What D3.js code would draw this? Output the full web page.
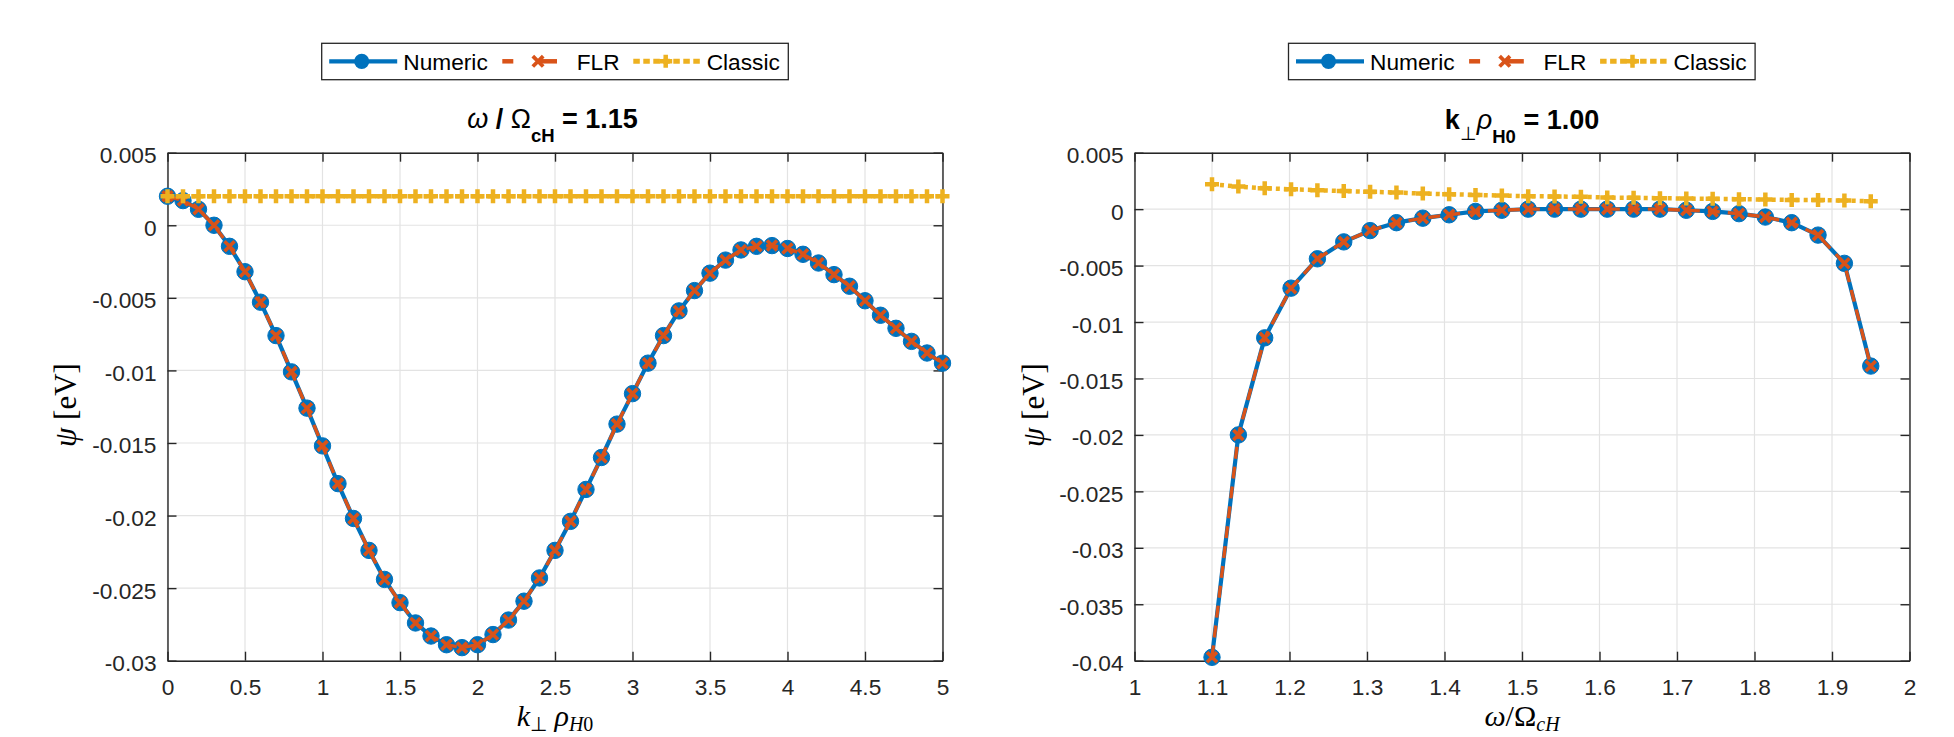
<!DOCTYPE html>
<html>
<head>
<meta charset="utf-8">
<script src="https://cdn.jsdelivr.net/npm/d3@7"></script>
<style>
  html, body { margin: 0; padding: 0; background: #ffffff; }
  svg { display: block; }
</style>
</head>
<body>
<svg id="chart" width="1954" height="737"></svg>
<script>
// ---------------- DATA ----------------
// Left panel: psi vs k_perp rho_H0 at omega/Omega_cH = 1.15
const leftK = [0.0, 0.1, 0.2, 0.3, 0.4, 0.5, 0.6, 0.7, 0.8, 0.9,
               1.0, 1.1, 1.2, 1.3, 1.4, 1.5, 1.6, 1.7, 1.8, 1.9,
               2.0, 2.1, 2.2, 2.3, 2.4, 2.5, 2.6, 2.7, 2.8, 2.9,
               3.0, 3.1, 3.2, 3.3, 3.4, 3.5, 3.6, 3.7, 3.8, 3.9,
               4.0, 4.1, 4.2, 4.3, 4.4, 4.5, 4.6, 4.7, 4.8, 4.9, 5.0];
const leftNumeric = [0.0020, 0.0017, 0.0011, 0.0000, -0.00145, -0.0032, -0.0053, -0.0076, -0.0101, -0.0126,
                     -0.0152, -0.0178, -0.0202, -0.0224, -0.0244, -0.0260, -0.0274, -0.0283, -0.0289, -0.0291,
                     -0.0289, -0.0282, -0.0272, -0.0259, -0.0243, -0.0224, -0.0204, -0.0182, -0.0160, -0.0137,
                     -0.0116, -0.0095, -0.0076, -0.0059, -0.0045, -0.0033, -0.0024, -0.0017, -0.00145, -0.0014,
                     -0.0016, -0.0020, -0.0026, -0.0034, -0.0042, -0.0052, -0.0062, -0.0071, -0.0080, -0.0088, -0.0095];
const leftFLR = [0.0020, 0.0017, 0.0011, 0.0000, -0.00145, -0.0032, -0.0053, -0.0076, -0.0101, -0.0126,
                 -0.0152, -0.0178, -0.0202, -0.0224, -0.0244, -0.0260, -0.0274, -0.0283, -0.0289, -0.0291,
                 -0.0289, -0.0282, -0.0272, -0.0259, -0.0243, -0.0224, -0.0204, -0.0182, -0.0160, -0.0137,
                 -0.0116, -0.0095, -0.0076, -0.0059, -0.0045, -0.0033, -0.0024, -0.0017, -0.00145, -0.0014,
                 -0.0016, -0.0020, -0.0026, -0.0034, -0.0042, -0.0052, -0.0062, -0.0071, -0.0080, -0.0088, -0.0095];
const leftClassic = [0.002, 0.002, 0.002, 0.002, 0.002, 0.002, 0.002, 0.002, 0.002, 0.002,
                     0.002, 0.002, 0.002, 0.002, 0.002, 0.002, 0.002, 0.002, 0.002, 0.002,
                     0.002, 0.002, 0.002, 0.002, 0.002, 0.002, 0.002, 0.002, 0.002, 0.002,
                     0.002, 0.002, 0.002, 0.002, 0.002, 0.002, 0.002, 0.002, 0.002, 0.002,
                     0.002, 0.002, 0.002, 0.002, 0.002, 0.002, 0.002, 0.002, 0.002, 0.002, 0.002];

// Right panel: psi vs omega/Omega_cH at k_perp rho_H0 = 1.00
const rightW = [1.100, 1.134, 1.168, 1.202, 1.236, 1.270, 1.304, 1.338, 1.372, 1.406,
                1.440, 1.474, 1.508, 1.542, 1.576, 1.610, 1.644, 1.678, 1.712, 1.746,
                1.780, 1.814, 1.848, 1.882, 1.916, 1.950];
const rightNumeric = [-0.0397, -0.0200, -0.0114, -0.0070, -0.0044, -0.0029, -0.0019, -0.0012, -0.0008, -0.0005,
                      -0.0002, -0.0001, 0.0000, 0.0000, 0.0000, 0.0000, 0.0000, 0.0000, -0.0001, -0.0002,
                      -0.0004, -0.0007, -0.0012, -0.0023, -0.0048, -0.0139];
const rightFLR = [-0.0397, -0.0200, -0.0114, -0.0070, -0.0044, -0.0029, -0.0019, -0.0012, -0.0008, -0.0005,
                  -0.0002, -0.0001, 0.0000, 0.0000, 0.0000, 0.0000, 0.0000, 0.0000, -0.0001, -0.0002,
                  -0.0004, -0.0007, -0.0012, -0.0023, -0.0048, -0.0139];
const rightClassic = [0.0022, 0.0020, 0.00185, 0.00176, 0.00168, 0.0016, 0.00153, 0.00147, 0.00138, 0.00132,
                      0.00126, 0.0012, 0.00115, 0.00112, 0.00109, 0.00103, 0.0010, 0.00097, 0.00094, 0.00091,
                      0.00088, 0.00085, 0.00082, 0.0008, 0.00076, 0.0007];

// Ticks
const leftXTicks = [0, 0.5, 1, 1.5, 2, 2.5, 3, 3.5, 4, 4.5, 5];
const leftXTickLabels = ["0", "0.5", "1", "1.5", "2", "2.5", "3", "3.5", "4", "4.5", "5"];
const leftYTicks = [0.005, 0, -0.005, -0.01, -0.015, -0.02, -0.025, -0.03];
const leftYTickLabels = ["0.005", "0", "-0.005", "-0.01", "-0.015", "-0.02", "-0.025", "-0.03"];
const rightXTicks = [1, 1.1, 1.2, 1.3, 1.4, 1.5, 1.6, 1.7, 1.8, 1.9, 2];
const rightXTickLabels = ["1", "1.1", "1.2", "1.3", "1.4", "1.5", "1.6", "1.7", "1.8", "1.9", "2"];
const rightYTicks = [0.005, 0, -0.005, -0.01, -0.015, -0.02, -0.025, -0.03, -0.035, -0.04];
const rightYTickLabels = ["0.005", "0", "-0.005", "-0.01", "-0.015", "-0.02", "-0.025", "-0.03", "-0.035", "-0.04"];

const seriesNames = ["Numeric", "FLR", "Classic"];
const seriesColors = ["#0072BD", "#D95319", "#EDB120"];
const leftTitleValue = "1.15";
const rightTitleValue = "1.00";

// ---------------- DRAWING ----------------
const svg = d3.select("#chart");
const SANS = "'Liberation Sans', Arial, Helvetica, sans-serif";
const SERIF = "'Liberation Serif', 'Times New Roman', serif";
const AXC = "#262626";
const TICKFONT = 22.7;

function xPath(cx, cy, s) {
  return `M${cx - s},${cy - s}L${cx + s},${cy + s}M${cx - s},${cy + s}L${cx + s},${cy - s}`;
}
function plusPath(cx, cy, s) {
  return `M${cx - s},${cy}L${cx + s},${cy}M${cx},${cy - s}L${cx},${cy + s}`;
}

function drawPanel(cfg) {
  const g = svg.append("g");
  const x = d3.scaleLinear().domain(cfg.xDomain).range([cfg.left, cfg.right]);
  const y = d3.scaleLinear().domain(cfg.yDomain).range([cfg.bottom, cfg.top]);

  // grid
  g.append("g").selectAll("line").data(cfg.xTicks).join("line")
    .attr("x1", d => x(d)).attr("x2", d => x(d))
    .attr("y1", cfg.top).attr("y2", cfg.bottom)
    .attr("stroke", "#e3e3e3").attr("stroke-width", 1.2);
  g.append("g").selectAll("line").data(cfg.yTicks).join("line")
    .attr("x1", cfg.left).attr("x2", cfg.right)
    .attr("y1", d => y(d)).attr("y2", d => y(d))
    .attr("stroke", "#e3e3e3").attr("stroke-width", 1.2);

  // axes
  const axB = d3.axisBottom(x).tickValues(cfg.xTicks).tickFormat((d, i) => cfg.xTickLabels[i])
    .tickSizeInner(-9).tickSizeOuter(0).tickPadding(18);
  const axT = d3.axisTop(x).tickValues(cfg.xTicks).tickFormat("").tickSizeInner(-9).tickSizeOuter(0);
  const axL = d3.axisLeft(y).tickValues(cfg.yTicks).tickFormat((d, i) => cfg.yTickLabels[i])
    .tickSizeInner(-9).tickSizeOuter(0).tickPadding(11);
  const axR = d3.axisRight(y).tickValues(cfg.yTicks).tickFormat("").tickSizeInner(-9).tickSizeOuter(0);

  const gb = g.append("g").attr("transform", `translate(0,${cfg.bottom})`).call(axB);
  const gt = g.append("g").attr("transform", `translate(0,${cfg.top})`).call(axT);
  const gl = g.append("g").attr("transform", `translate(${cfg.left},0)`).call(axL);
  const gr = g.append("g").attr("transform", `translate(${cfg.right},0)`).call(axR);
  [gb, gt, gl, gr].forEach(a => {
    a.select(".domain").attr("stroke", AXC).attr("stroke-width", 1.4);
    a.selectAll(".tick line").attr("stroke", AXC).attr("stroke-width", 1.4);
    a.selectAll(".tick text").attr("fill", AXC)
      .style("font-family", SANS).style("font-size", TICKFONT + "px");
  });
  gl.selectAll(".tick text").attr("dy", "0.44em");

  // series lines
  const pts = (xs, ys) => xs.map((v, i) => [x(v), y(ys[i])]);
  const line = d3.line();
  const pN = pts(cfg.xs, cfg.numeric);
  const pF = pts(cfg.xs, cfg.flr);
  const pC = pts(cfg.xs, cfg.classic);

  // Numeric
  g.append("path").attr("d", line(pN)).attr("fill", "none")
    .attr("stroke", seriesColors[0]).attr("stroke-width", 4.2).attr("stroke-linejoin", "round");
  g.append("g").selectAll("circle").data(pN).join("circle")
    .attr("cx", d => d[0]).attr("cy", d => d[1]).attr("r", 8.2)
    .attr("fill", seriesColors[0]).attr("stroke", seriesColors[0]).attr("stroke-width", 1);

  // FLR
  g.append("path").attr("d", line(pF)).attr("fill", "none")
    .attr("stroke", seriesColors[1]).attr("stroke-width", 3.4).attr("stroke-dasharray", "12,8");
  g.append("g").selectAll("path").data(pF).join("path")
    .attr("d", d => xPath(d[0], d[1], 5)).attr("fill", "none")
    .attr("stroke", seriesColors[1]).attr("stroke-width", 3.6);

  // Classic
  g.append("path").attr("d", line(pC)).attr("fill", "none")
    .attr("stroke", seriesColors[2]).attr("stroke-width", 4.5).attr("stroke-dasharray", "4,4");
  g.append("g").selectAll("path").data(pC).join("path")
    .attr("d", d => plusPath(d[0], d[1], 7)).attr("fill", "none")
    .attr("stroke", seriesColors[2]).attr("stroke-width", 4.5);

  // legend
  const L = cfg.legendLeft, T = 43.3, W = 466.6, H = 36.4, ly = 61.3, tb = 69.7;
  const lg = svg.append("g");
  lg.append("rect").attr("x", L).attr("y", T).attr("width", W).attr("height", H)
    .attr("fill", "#fff").attr("stroke", AXC).attr("stroke-width", 1.3);
  // Numeric icon
  lg.append("line").attr("x1", L + 7.5).attr("x2", L + 75.5).attr("y1", ly).attr("y2", ly)
    .attr("stroke", seriesColors[0]).attr("stroke-width", 4.2);
  lg.append("circle").attr("cx", L + 40).attr("cy", ly).attr("r", 7.6).attr("fill", seriesColors[0]);
  // FLR icon
  lg.append("line").attr("x1", L + 180.6).attr("x2", L + 191.6).attr("y1", ly).attr("y2", ly)
    .attr("stroke", seriesColors[1]).attr("stroke-width", 4.5);
  lg.append("line").attr("x1", L + 216).attr("x2", L + 235.3).attr("y1", ly).attr("y2", ly)
    .attr("stroke", seriesColors[1]).attr("stroke-width", 4.5);
  lg.append("path").attr("d", xPath(L + 216.3, ly, 5.2)).attr("fill", "none")
    .attr("stroke", seriesColors[1]).attr("stroke-width", 3.8);
  // Classic icon
  lg.append("line").attr("x1", L + 311.6).attr("x2", L + 380).attr("y1", ly).attr("y2", ly)
    .attr("stroke", seriesColors[2]).attr("stroke-width", 5).attr("stroke-dasharray", "6.5,3.5");
  lg.append("path").attr("d", plusPath(L + 344, ly, 6.5)).attr("fill", "none")
    .attr("stroke", seriesColors[2]).attr("stroke-width", 4.5);
  // texts
  const textX = [L + 81.6, L + 255, L + 385];
  seriesNames.forEach((nm, i) => {
    lg.append("text").attr("x", textX[i]).attr("y", tb).text(nm)
      .attr("fill", "#000").style("font-family", SANS).style("font-size", TICKFONT + "px");
  });

  return { x, y };
}

const axTop = 152.7, axBottom = 660.7;
const leftPanel = {
  left: 167.5, right: 942.5, top: axTop, bottom: axBottom,
  xDomain: [0, 5], yDomain: [-0.03, 0.005],
  xTicks: leftXTicks, xTickLabels: leftXTickLabels,
  yTicks: leftYTicks, yTickLabels: leftYTickLabels,
  xs: leftK, numeric: leftNumeric, flr: leftFLR, classic: leftClassic,
  legendLeft: 321.7
};
const rightPanel = {
  left: 1134.5, right: 1909.5, top: axTop, bottom: axBottom,
  xDomain: [1, 2], yDomain: [-0.04, 0.005],
  xTicks: rightXTicks, xTickLabels: rightXTickLabels,
  yTicks: rightYTicks, yTickLabels: rightYTickLabels,
  xs: rightW, numeric: rightNumeric, flr: rightFLR, classic: rightClassic,
  legendLeft: 1288.5
};
drawPanel(leftPanel);
drawPanel(rightPanel);

// ---------------- TITLES ----------------
const TFS = 27, SUB = 18.5;
(function () {
  const cx = (leftPanel.left + leftPanel.right) / 2 - 2.5;
  const t = svg.append("text").attr("x", cx).attr("y", 128.3).attr("text-anchor", "middle")
    .style("font-family", SANS).style("font-size", TFS + "px").style("font-weight", "bold").attr("fill", "#000");
  t.append("tspan").text("ω").style("font-style", "italic").style("font-weight", "normal");
  t.append("tspan").text(" / ");
  t.append("tspan").text("Ω").style("font-weight", "normal");
  t.append("tspan").text("cH").attr("dy", 14).style("font-size", SUB + "px");
  t.append("tspan").text(" = " + leftTitleValue).attr("dy", -14);
})();
(function () {
  const cx = (rightPanel.left + rightPanel.right) / 2;
  const t = svg.append("text").attr("x", cx).attr("y", 129.3).attr("text-anchor", "middle")
    .style("font-family", SANS).style("font-size", TFS + "px").style("font-weight", "bold").attr("fill", "#000");
  t.append("tspan").text("k");
  t.append("tspan").text("⊥").attr("dy", 11).style("font-size", SUB + "px").style("font-weight", "normal");
  t.append("tspan").text("ρ").attr("dy", -11).style("font-style", "italic").style("font-weight", "normal");
  t.append("tspan").text("H0").attr("dy", 14).style("font-size", SUB + "px");
  t.append("tspan").text(" = " + rightTitleValue).attr("dy", -14);
})();

// ---------------- AXIS LABELS ----------------
const LFS = 30, LSUB = 20;
(function () {
  const t = svg.append("text").attr("x", (leftPanel.left + leftPanel.right) / 2).attr("y", 726)
    .attr("text-anchor", "middle").style("font-family", SERIF).style("font-size", LFS + "px").attr("fill", "#000");
  t.append("tspan").text("k").style("font-style", "italic");
  t.append("tspan").text("⊥").attr("dy", 5).style("font-size", LSUB + "px");
  t.append("tspan").text(" ρ").attr("dy", -5).style("font-style", "italic");
  t.append("tspan").text("H").attr("dy", 5).style("font-size", LSUB + "px").style("font-style", "italic");
  t.append("tspan").text("0").style("font-size", LSUB + "px");
})();
(function () {
  const t = svg.append("text").attr("x", (rightPanel.left + rightPanel.right) / 2).attr("y", 726)
    .attr("text-anchor", "middle").style("font-family", SERIF).style("font-size", LFS + "px").attr("fill", "#000");
  t.append("tspan").text("ω").style("font-style", "italic");
  t.append("tspan").text("/Ω");
  t.append("tspan").text("cH").attr("dy", 5).style("font-size", LSUB + "px").style("font-style", "italic");
})();
[[76, 405], [1044, 405]].forEach(([lx, lyc]) => {
  const t = svg.append("text").attr("transform", `translate(${lx},${lyc}) rotate(-90)`)
    .attr("text-anchor", "middle").style("font-family", SERIF).style("font-size", "31px").attr("fill", "#000");
  t.append("tspan").text("ψ").style("font-style", "italic");
  t.append("tspan").text(" [eV]");
});
</script>
</body>
</html>
